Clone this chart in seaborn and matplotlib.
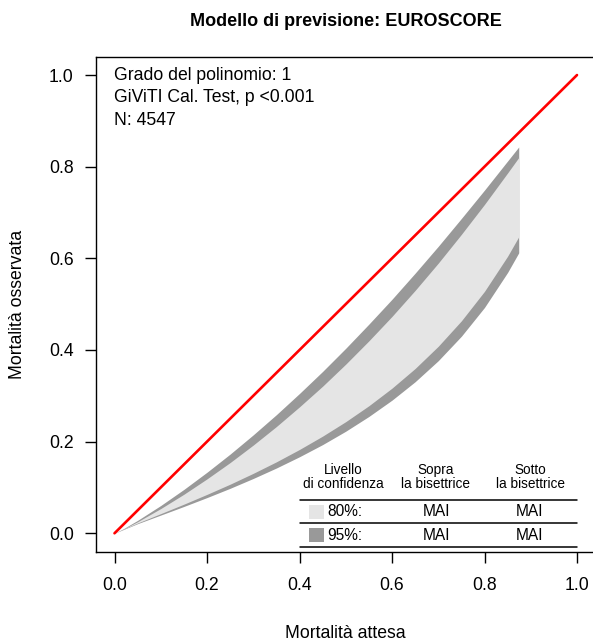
import matplotlib
matplotlib.use("Agg")
from matplotlib import pyplot as plt
import seaborn as sns
import pandas as pd

# expected mortality (x) and the calibration belt edges
attesa = [0.0, 0.02, 0.05, 0.10, 0.15, 0.20, 0.25, 0.30, 0.35, 0.40, 0.45,
          0.50, 0.55, 0.60, 0.65, 0.70, 0.75, 0.80, 0.85, 0.874]
sup95 = [0.0, 0.0104, 0.0282, 0.0606, 0.0957, 0.1332, 0.1728, 0.2148, 0.2588, 0.3051, 0.3532,
         0.4037, 0.4564, 0.5107, 0.5676, 0.6262, 0.6870, 0.7489, 0.8125, 0.843]
sup80 = [0.0, 0.0094, 0.0252, 0.0539, 0.0851, 0.1187, 0.1543, 0.1925, 0.2329, 0.2759, 0.3210,
         0.3691, 0.4199, 0.4733, 0.5300, 0.5895, 0.6523, 0.7177, 0.7864, 0.820]
inf80 = [0.0, 0.0090, 0.0224, 0.0429, 0.0635, 0.0849, 0.1071, 0.1308, 0.1559, 0.1829, 0.2120,
         0.2436, 0.2783, 0.3167, 0.3596, 0.4081, 0.4636, 0.5280, 0.6047, 0.647]
inf95 = [0.0, 0.0085, 0.0210, 0.0397, 0.0585, 0.0779, 0.0981, 0.1196, 0.1424, 0.1670, 0.1935,
         0.2227, 0.2549, 0.2905, 0.3307, 0.3766, 0.4300, 0.4928, 0.5693, 0.612]
bisettrice = [0.0, 1.0]
ticks = [0.0, 0.2, 0.4, 0.6, 0.8, 1.0]
tick_labels = ["0.0", "0.2", "0.4", "0.6", "0.8", "1.0"]

info = ["Grado del polinomio: 1", "GiViTI Cal. Test, p <0.001", "N: 4547"]
livelli = ["80%:", "95%:"]
sopra = ["MAI", "MAI"]
sotto = ["MAI", "MAI"]

sns.set_style("ticks")
plt.rcParams["font.family"] = ["Liberation Sans", "DejaVu Sans"]
plt.rcParams["axes.linewidth"] = 1.0
plt.rcParams["text.color"] = "black"
plt.rcParams["axes.labelcolor"] = "black"

df = pd.DataFrame({"x": bisettrice, "y": bisettrice})

W, H = 593, 642
fig = plt.figure(figsize=(W / 100, H / 100), dpi=100)
ax = fig.add_axes([96 / W, (H - 551.6) / H, (595.5 - 96) / W, (551.6 - 56.7) / H])

light = "#e5e5e5"
dark = "#999999"
ax.fill_between(attesa, inf95, sup95, color=dark, lw=0)
ax.fill_between(attesa, inf80, sup80, color=light, lw=0)
sns.lineplot(data=df, x="x", y="y", color="red", lw=1.9, ax=ax)

ax.set_xlim(-0.04, 1.04)
ax.set_ylim(-0.04, 1.04)
ax.set_xticks(ticks, tick_labels, fontsize=12.7)
ax.set_yticks(ticks, tick_labels, fontsize=12.7)
ax.tick_params(length=8, width=1.0, color="black", labelcolor="black")
ax.tick_params(axis="x", pad=10)
ax.tick_params(axis="y", pad=8)
for s in ax.spines.values():
    s.set_visible(True)
    s.set_color("black")

ax.set_title("Modello di previsione: EUROSCORE", fontsize=13, weight="bold", pad=22, color="black")
ax.set_xlabel("")
ax.set_ylabel("")
fig.text(345.7 / W, 1 - 633 / H, "Mortalità attesa", fontsize=12.7, ha="center", va="center")
fig.text(18 / W, 1 - 304 / H, "Mortalità osservata", fontsize=12.7, ha="center", va="center",
         rotation=90)

for i, t in enumerate(info):
    ax.text(0.0, 1.0 - 0.05 * i, t, fontsize=12.7, va="center", ha="left")

# legend table
ax.text(0.494, 0.123, "Livello\ndi confidenza", fontsize=9.8, ha="center", va="center", linespacing=1.0)
ax.text(0.695, 0.123, "Sopra\nla bisettrice", fontsize=9.8, ha="center", va="center", linespacing=1.0)
ax.text(0.900, 0.123, "Sotto\nla bisettrice", fontsize=9.8, ha="center", va="center", linespacing=1.0)
for yl in [0.073, 0.0225, -0.030]:
    ax.plot([0.400, 1.0], [yl, yl], color="black", lw=1.1)
row_y = [0.0466, -0.004]
for i, c in enumerate([light, dark]):
    ax.add_patch(plt.Rectangle((0.42, row_y[i] - 0.016), 0.034, 0.032, color=c, lw=0))
    ax.text(0.461, row_y[i], livelli[i], fontsize=11.2, va="center", ha="left")
    ax.text(0.697, row_y[i], sopra[i], fontsize=11.2, va="center", ha="center")
    ax.text(0.898, row_y[i], sotto[i], fontsize=11.2, va="center", ha="center")

fig.savefig("out.png", dpi=100)
